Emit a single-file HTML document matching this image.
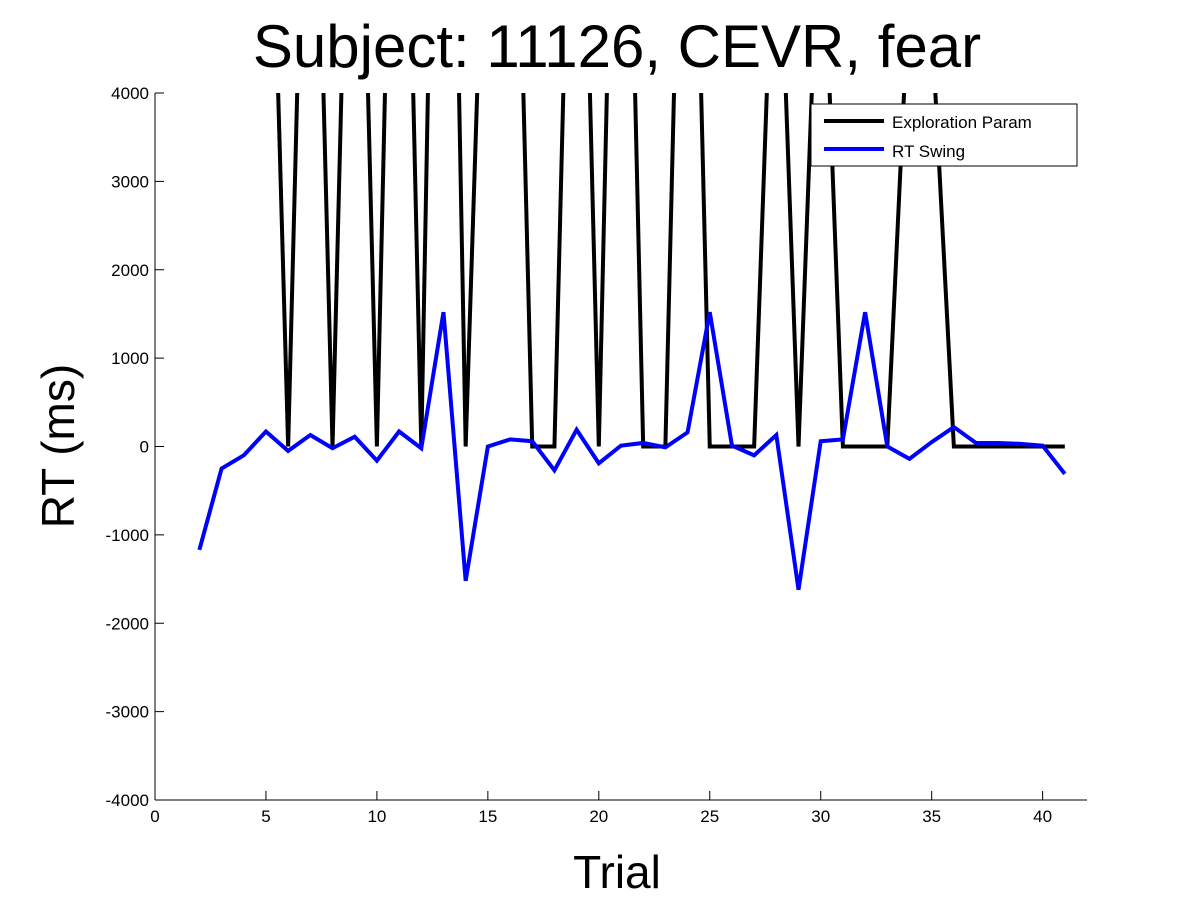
<!DOCTYPE html>
<html><head><meta charset="utf-8"><style>
body{margin:0;background:#fff;}
svg text{font-family:"Liberation Sans",sans-serif;}
</style></head><body>
<svg id="chart" width="1201" height="901" xmlns="http://www.w3.org/2000/svg">
<rect width="1201" height="901" fill="#fff"/>
<text x="617" y="67" font-size="60" text-anchor="middle">Subject: 11126, CEVR, fear</text>
<text x="617" y="888" font-size="46" text-anchor="middle">Trial</text>
<text x="0" y="0" font-size="46" text-anchor="middle" transform="translate(74,446) rotate(-90)">RT (ms)</text>
<defs><clipPath id="plotclip"><rect x="155" y="93" width="932" height="707"/></clipPath></defs>
<g id="axes"></g>
<g id="series" clip-path="url(#plotclip)"></g>
<g>
<rect x="811" y="104" width="266" height="62" fill="#fff" stroke="#000" stroke-width="1"/>
<line x1="824" y1="121" x2="884" y2="121" stroke="#000" stroke-width="4"/>
<text x="892" y="128" font-size="17">Exploration Param</text>
<line x1="824" y1="149" x2="884" y2="149" stroke="#0000ff" stroke-width="4"/>
<text x="892" y="157" font-size="17">RT Swing</text>
</g>
</svg>
<script>
const trials = [2,3,4,5,6,7,8,9,10,11,12,13,14,15,16,17,18,19,20,21,22,23,24,25,26,27,28,29,30,31,32,33,34,35,36,37,38,39,40,41];
const rtSwing = [-1170,-250,-100,170,-50,130,-20,110,-160,170,-20,1520,-1520,0,80,60,-270,190,-190,10,40,-10,160,1520,10,-100,130,-1620,60,80,1520,0,-140,50,220,40,40,30,10,-310];
const exploration = [20000,20000,20000,8900,0,9800,0,10000,0,11000,0,13400,0,7700,10000,0,0,10000,0,11000,0,0,10300,0,0,0,7000,0,6700,0,0,0,5300,4800,0,0,0,0,0,0];
const xTicks = [0,5,10,15,20,25,30,35,40];
const yTicks = [-4000,-3000,-2000,-1000,0,1000,2000,3000,4000];
const X0=155,X1=1087,Y0=93,Y1=800,XMIN=0,XMAX=42,YMIN=-4000,YMAX=4000;
const sx=v=>X0+(v-XMIN)/(XMAX-XMIN)*(X1-X0);
const sy=v=>Y1-(v-YMIN)/(YMAX-YMIN)*(Y1-Y0);
const NS="http://www.w3.org/2000/svg";
const axes=document.getElementById('axes'), series=document.getElementById('series');
function mk(tag,attrs,parent){const e=document.createElementNS(NS,tag);for(const k in attrs)e.setAttribute(k,attrs[k]);parent.appendChild(e);return e;}
const xa=mk('line',{x1:X0,y1:Y1,x2:X1,y2:Y1,stroke:'#000','stroke-width':1},axes);


const ya=mk('line',{x1:X0,y1:Y0,x2:X0,y2:Y1,stroke:'#000','stroke-width':1},axes);


xTicks.forEach(t=>{
  mk('line',{x1:sx(t),y1:Y1,x2:sx(t),y2:Y1-9,stroke:'#000'},axes);
  const tx=mk('text',{x:sx(t),y:Y1+22,'font-size':17,'text-anchor':'middle'},axes);
  tx.textContent=t;
  
  
});
yTicks.forEach(t=>{
  mk('line',{x1:X0,y1:sy(t),x2:X0+9,y2:sy(t),stroke:'#000'},axes);
  const tx=mk('text',{x:X0-6,y:sy(t)+6,'font-size':17,'text-anchor':'end'},axes);
  tx.textContent=t;
  
  
});
function path(vals,color,name){
  const d=vals.map((v,i)=>(i?'L':'M')+sx(trials[i]).toFixed(2)+','+sy(v).toFixed(2)).join('');
  const p=mk('path',{d:d,fill:'none',stroke:color,'stroke-width':4,'stroke-linejoin':'miter'},series);
  
  
}
path(exploration,'#000','exploration-param-line');
path(rtSwing,'#0000ff','rt-swing-line');
</script>
</body></html>
